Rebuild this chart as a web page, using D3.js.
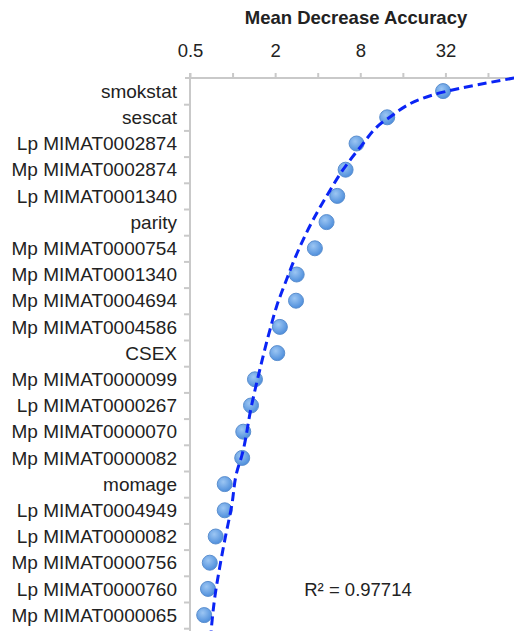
<!DOCTYPE html>
<html>
<head>
<meta charset="utf-8">
<script src="https://cdn.jsdelivr.net/npm/d3@7"></script>
<style>
  body { margin: 0; background: #fff; }
  svg { display: block; font-family: "Liberation Sans", Arial, Helvetica, sans-serif; }
  .axis path, .axis line { stroke: #c9c9c9; stroke-width: 2px; }
  .axis text { fill: #222; font-size: 18.5px; }
</style>
</head>
<body>
<svg id="Graph"></svg>
<script>
// variables (top to bottom)
const categories = [
    "smokstat", "sescat", "Lp MIMAT0002874", "Mp MIMAT0002874", "Lp MIMAT0001340",
    "parity", "Mp MIMAT0000754", "Mp MIMAT0001340", "Mp MIMAT0004694", "Mp MIMAT0004586",
    "CSEX", "Mp MIMAT0000099", "Lp MIMAT0000267", "Mp MIMAT0000070", "Mp MIMAT0000082",
    "momage", "Lp MIMAT0004949", "Lp MIMAT0000082", "Mp MIMAT0000756", "Lp MIMAT0000760",
    "Mp MIMAT0000065"
];
// mean decrease accuracy per variable
const accuracy = [30.8, 12.4, 7.53, 6.3, 5.5, 4.62, 3.82, 2.84, 2.81, 2.16,
    2.07, 1.44, 1.35, 1.19, 1.17, 0.88, 0.88, 0.76, 0.69, 0.67, 0.63];

// trendline (rank position, value)
const trendRank = [0.5, 1.04, 2.08, 3.16, 3.99, 5.01, 5.9, 7.68, 8.19, 9.21, 10.1,
    11.62, 13.02, 14.93, 15.55, 16.84, 18.09, 19.13, 20.27, 21.6];
const trendValue = [98, 30.8, 12.27, 7.95, 6.06, 4.62, 3.72, 2.62, 2.41, 2.05, 1.84,
    1.56, 1.36, 1.16, 1.07, 0.985, 0.884, 0.814, 0.751, 0.705];

const xTicks = [0.5, 1, 2, 4, 8, 16, 32, 64];
const xTickLabels = ["0.5", "", "2", "", "8", "", "32", ""];
const rSquared = "R² = 0.97714";

const w = 514;
const h = 631;
const plotLeft = 190;
const plotTop = 78;
const band = 26.2;

let svg = d3.select("#Graph")
    .attr("width", w)
    .attr("height", h);

// gradient for the glossy markers
const defs = svg.append("defs");
const grad = defs.append("radialGradient")
    .attr("id", "dotFill")
    .attr("cx", "40%").attr("cy", "35%").attr("r", "65%");
grad.append("stop").attr("offset", "0%").attr("stop-color", "#9cc6f3");
grad.append("stop").attr("offset", "100%").attr("stop-color", "#4f8fdc");

// scales
const xScale = d3.scaleLog()
    .base(2)
    .domain([0.5, 128])
    .range([plotLeft, plotLeft + 8 * 42.57]);
const yScale = d3.scaleLinear()
    .domain([0.5, categories.length + 0.5])
    .range([plotTop, plotTop + categories.length * band]);

// axes
const xAxis = d3.axisTop(xScale)
    .tickValues(xTicks)
    .tickFormat(function (d, i) { return xTickLabels[i]; })
    .tickSize(5)
    .tickSizeOuter(0)
    .tickPadding(16);
const xg = svg.append("g")
    .attr("class", "axis")
    .attr("transform", "translate(0," + plotTop + ")")
    .call(xAxis);
xg.select(".domain").attr("d", "M" + (plotLeft - 5) + ",0H" + w);

const boundaries = d3.range(1, categories.length + 1).map(function (i) { return i + 0.5; });
const yAxis = d3.axisLeft(yScale)
    .tickValues(boundaries)
    .tickFormat("")
    .tickSize(6)
    .tickSizeOuter(0);
const yg = svg.append("g")
    .attr("class", "axis")
    .attr("transform", "translate(" + plotLeft + ",0)")
    .call(yAxis);
// axis line runs to the bottom edge
yg.select(".domain").attr("d", "M0," + (plotTop - 5) + "V" + h);

// category labels
svg.append("g")
    .selectAll("text")
    .data(categories)
    .enter()
    .append("text")
    .attr("x", 177)
    .attr("y", function (d, i) { return yScale(i + 1); })
    .attr("dy", "0.35em")
    .attr("text-anchor", "end")
    .attr("font-size", "19px")
    .attr("fill", "#222")
    .text(function (d) { return d; });

// trendline
const trend = trendRank.map(function (r, i) { return [r, trendValue[i]]; });
const line = d3.line()
    .x(function (d) { return xScale(d[1]); })
    .y(function (d) { return yScale(d[0]); })
    .curve(d3.curveMonotoneY);

// points
svg.append("g")
    .selectAll("circle")
    .data(accuracy)
    .enter()
    .append("circle")
    .attr("cx", function (d) { return xScale(d); })
    .attr("cy", function (d, i) { return yScale(i + 1); })
    .attr("r", 7.5)
    .attr("fill", "url(#dotFill)")
    .attr("stroke", "#5b8fcf")
    .attr("stroke-width", 1);

svg.append("path")
    .datum(trend)
    .attr("d", line)
    .attr("fill", "none")
    .attr("stroke", "#0a24f5")
    .attr("stroke-width", 3)
    .attr("stroke-dasharray", "9,5");

// title
svg.append("text")
    .attr("x", 356)
    .attr("y", 24)
    .attr("text-anchor", "middle")
    .attr("font-size", "18.5px")
    .attr("font-weight", "bold")
    .attr("fill", "#222")
    .text("Mean Decrease Accuracy");

// R squared
svg.append("text")
    .attr("x", 358)
    .attr("y", 596)
    .attr("text-anchor", "middle")
    .attr("font-size", "18.5px")
    .attr("fill", "#222")
    .text(rSquared);
</script>
</body>
</html>
